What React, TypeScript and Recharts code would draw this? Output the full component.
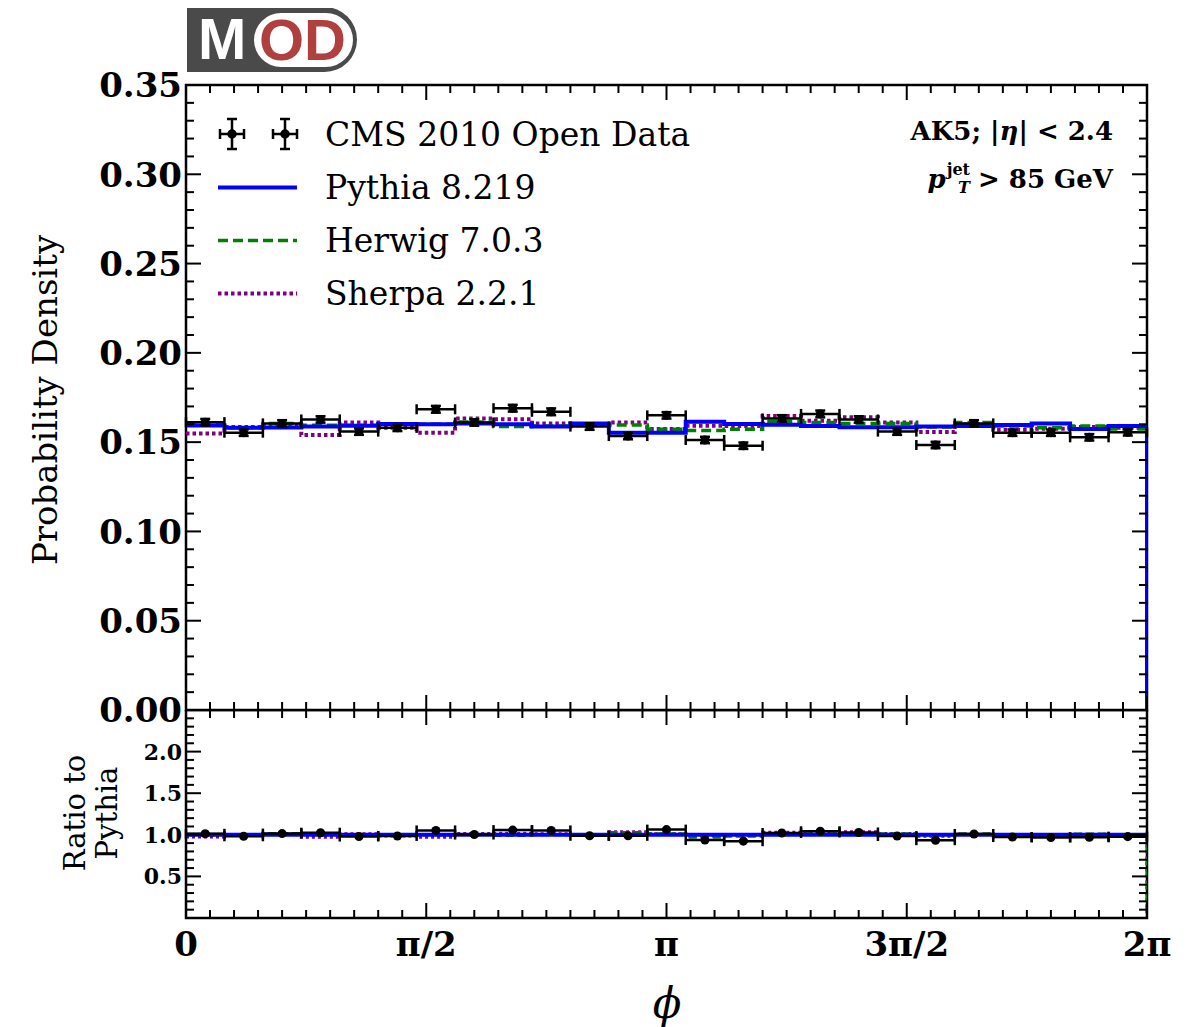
import React from 'react';
import { ComposedChart, Line, Scatter, XAxis, YAxis, ErrorBar, ReferenceArea } from 'recharts';

// ---------- data ----------
const TWO_PI = 2 * Math.PI;
const NBINS = 25;

const dataValues = [
  0.1612, 0.1553, 0.1605, 0.1627, 0.1559, 0.1580, 0.1684, 0.1610, 0.1690, 0.1670,
  0.1587, 0.1534, 0.1650, 0.1512, 0.1480, 0.1633, 0.1658, 0.1627, 0.1559, 0.1484,
  0.1605, 0.1553, 0.1553, 0.1527, 0.1555,
];
const dataErrors = [
  0.0018, 0.0018, 0.0018, 0.0018, 0.0018, 0.0018, 0.0019, 0.0018, 0.0019, 0.0019,
  0.0018, 0.0018, 0.0018, 0.0018, 0.0018, 0.0018, 0.0019, 0.0018, 0.0018, 0.0018,
  0.0018, 0.0018, 0.0018, 0.0018, 0.0018,
];
const pythiaValues = [
  0.1593, 0.1581, 0.1582, 0.1587, 0.1592, 0.1602, 0.1600, 0.1605, 0.1600, 0.1587,
  0.1605, 0.1553, 0.1553, 0.1614, 0.1602, 0.1598, 0.1590, 0.1583, 0.1583, 0.1587,
  0.1590, 0.1596, 0.1605, 0.1574, 0.1590,
];
const herwigValues = [
  0.1596, 0.1580, 0.1605, 0.1595, 0.1595, 0.1600, 0.1600, 0.1613, 0.1587, 0.1590,
  0.1598, 0.1596, 0.1572, 0.1565, 0.1572, 0.1615, 0.1610, 0.1605, 0.1605, 0.1585,
  0.1610, 0.1590, 0.1580, 0.1590, 0.1574,
];
const sherpaValues = [
  0.1549, 0.1585, 0.1595, 0.1540, 0.1610, 0.1580, 0.1553, 0.1632, 0.1628, 0.1605,
  0.1600, 0.1610, 0.1574, 0.1592, 0.1590, 0.1646, 0.1620, 0.1640, 0.1610, 0.1557,
  0.1600, 0.1570, 0.1575, 0.1585, 0.1580,
];

const xMajorTicks = [0, Math.PI / 2, Math.PI, (3 * Math.PI) / 2, TWO_PI];
const xMajorLabels = ['0', 'π/2', 'π', '3π/2', '2π'];
const xMinorTicks = Array.from({ length: 41 }, (_, i) => (i * Math.PI) / 20);
const mainYTicks = Array.from({ length: 36 }, (_, i) => i / 100);
const mainYMajorLabels = ['0.00', '0.05', '0.10', '0.15', '0.20', '0.25', '0.30', '0.35'];
const ratioYTicks = Array.from({ length: 26 }, (_, i) => i / 10);
const ratioYMajorLabels = ['', '0.5', '1.0', '1.5', '2.0', ''];

const legendLabels = ['CMS 2010 Open Data', 'Pythia 8.219', 'Herwig 7.0.3', 'Sherpa 2.2.1'];

// ---------- derived tables ----------
const binEdges = Array.from({ length: NBINS + 1 }, (_, i) => (i * TWO_PI) / NBINS);
const halfWidth = TWO_PI / NBINS / 2;

const stepSeries = (vals: number[], drop: boolean) => [
  ...vals.map((v, i) => ({ x: binEdges[i], v })),
  { x: TWO_PI, v: drop ? 0 : vals[vals.length - 1] },
];

const dataPoints = dataValues.map((v, i) => ({
  x: binEdges[i] + halfWidth,
  y: v,
  xerr: halfWidth,
  yerr: dataErrors[i],
}));
const ratioPoints = dataValues.map((v, i) => ({
  x: binEdges[i] + halfWidth,
  y: v / pythiaValues[i],
  xerr: halfWidth,
  yerr: dataErrors[i] / pythiaValues[i],
}));

const mainPythia = stepSeries(pythiaValues, true);
const mainHerwig = stepSeries(herwigValues, true);
const mainSherpa = stepSeries(sherpaValues, true);
const ratioPythia = stepSeries(pythiaValues.map((p) => p / p), false);
const ratioHerwig = stepSeries(herwigValues.map((h, i) => h / pythiaValues[i]), true);
const ratioSherpa = stepSeries(sherpaValues.map((s, i) => s / pythiaValues[i]), true);

// ---------- styling ----------
const SERIF = '"DejaVu Serif", serif';
const BLUE = '#0000ff';
const GREEN = '#008000';
const PURPLE = '#800080';
const MAJOR = 15;
const MINOR = 8;
const TICK_W = 2;

const CHART_W = 1188;
const Y_AXIS_W = 178;
const RIGHT_M = 49;
const PLOT_W = CHART_W - Y_AXIS_W - RIGHT_M; // 961
const MAIN_TOP = 77;
const MAIN_H = 625;
const MAIN_X_AXIS_H = 30;
const RATIO_H = 208;
const RATIO_CHART_H = 317;

function MainYTick(props: any) {
  const { x, y, payload } = props;
  const idx = Math.round(payload.value * 100);
  const major = idx % 5 === 0;
  const len = major ? MAJOR : MINOR;
  return (
    <g>
      <line x1={x} x2={x + len} y1={y} y2={y} stroke="#000" strokeWidth={TICK_W} />
      <line x1={x + PLOT_W} x2={x + PLOT_W - len} y1={y} y2={y} stroke="#000" strokeWidth={TICK_W} />
      {major && (
        <text x={x - 4} y={y} dy="0.36em" textAnchor="end" fontFamily={SERIF} fontWeight="bold" fontSize={34} fill="#000">
          {mainYMajorLabels[idx / 5]}
        </text>
      )}
    </g>
  );
}

function RatioYTick(props: any) {
  const { x, y, payload } = props;
  const idx = Math.round(payload.value * 10);
  const major = idx % 5 === 0;
  const len = major ? MAJOR : MINOR;
  const label = major ? ratioYMajorLabels[idx / 5] : '';
  return (
    <g>
      <line x1={x} x2={x + len} y1={y} y2={y} stroke="#000" strokeWidth={TICK_W} />
      <line x1={x + PLOT_W} x2={x + PLOT_W - len} y1={y} y2={y} stroke="#000" strokeWidth={TICK_W} />
      {label && (
        <text x={x - 4} y={y} dy="0.36em" textAnchor="end" fontFamily={SERIF} fontWeight="bold" fontSize={22} fill="#000">
          {label}
        </text>
      )}
    </g>
  );
}

function makeXTick(plotH: number, withLabels: boolean) {
  return (props: any) => {
    const { x, y, payload } = props;
    const k = Math.round(payload.value / (Math.PI / 20));
    const major = k % 10 === 0;
    const len = major ? MAJOR : MINOR;
    return (
      <g>
        <line x1={x} x2={x} y1={y} y2={y - len} stroke="#000" strokeWidth={TICK_W} />
        <line x1={x} x2={x} y1={y - plotH} y2={y - plotH + len} stroke="#000" strokeWidth={TICK_W} />
        {withLabels && major && (
          <text x={x} y={y + 38} textAnchor="middle" fontFamily={SERIF} fontWeight="bold" fontSize={34} fill="#000">
            {xMajorLabels[k / 10]}
          </text>
        )}
      </g>
    );
  };
}

const MainXTick = makeXTick(MAIN_H, false);
const RatioXTick = makeXTick(RATIO_H, true);

function LegendIcon({ kind }: { kind: number }) {
  if (kind === 0) {
    const cross = (cx: number) => (
      <g stroke="#000" strokeWidth={2.5}>
        <line x1={cx - 12} x2={cx + 12} y1={26} y2={26} />
        <line x1={cx - 12} x2={cx - 12} y1={21} y2={31} />
        <line x1={cx + 12} x2={cx + 12} y1={21} y2={31} />
        <line x1={cx} x2={cx} y1={11} y2={41} />
        <line x1={cx - 5} x2={cx + 5} y1={11} y2={11} />
        <line x1={cx - 5} x2={cx + 5} y1={41} y2={41} />
        <circle cx={cx} cy={26} r={3.5} fill="#000" />
      </g>
    );
    return (
      <svg width={90} height={53}>
        {cross(19)}
        {cross(72)}
      </svg>
    );
  }
  const color = kind === 1 ? BLUE : kind === 2 ? GREEN : PURPLE;
  const dash = kind === 1 ? undefined : kind === 2 ? '10 5' : '3.5 3';
  const w = kind === 1 ? 4 : kind === 2 ? 3.5 : 4;
  return (
    <svg width={90} height={53}>
      <line x1={5} x2={84} y1={26.5} y2={26.5} stroke={color} strokeWidth={w} strokeDasharray={dash} />
    </svg>
  );
}

export default function App() {
  return (
    <div style={{ position: 'relative', width: CHART_W, height: 1019 }}>
      {/* main panel */}
      <div style={{ position: 'absolute', left: 0, top: 0 }}>
        <ComposedChart
          width={CHART_W}
          height={MAIN_TOP + MAIN_H + MAIN_X_AXIS_H}
          margin={{ top: MAIN_TOP, right: RIGHT_M, bottom: 0, left: 0 }}
        >
          <XAxis
            dataKey="x"
            type="number"
            domain={[0, TWO_PI]}
            allowDataOverflow
            ticks={xMinorTicks}
            interval={0}
            tick={MainXTick}
            tickLine={false}
            axisLine={false}
            tickSize={0}
            tickMargin={0}
            height={MAIN_X_AXIS_H}
          />
          <YAxis
            type="number"
            domain={[0, 0.35]}
            allowDataOverflow
            ticks={mainYTicks}
            interval={0}
            tick={MainYTick}
            tickLine={false}
            axisLine={false}
            tickSize={0}
            tickMargin={0}
            width={Y_AXIS_W}
            label={{
              content: () => (
                <text x={37} y={392} transform="rotate(-90 37 392)" textAnchor="middle" dominantBaseline="central" fontFamily={SERIF} fontSize={34} fill="#000">
                  Probability Density
                </text>
              ),
            }}
          />
          <Line data={mainSherpa} dataKey="v" type="stepAfter" stroke={PURPLE} strokeWidth={4} strokeDasharray="3.5 3" dot={false} activeDot={false} isAnimationActive={false} />
          <Line data={mainHerwig} dataKey="v" type="stepAfter" stroke={GREEN} strokeWidth={3.5} strokeDasharray="10 5" dot={false} activeDot={false} isAnimationActive={false} />
          <Line data={mainPythia} dataKey="v" type="stepAfter" stroke={BLUE} strokeWidth={4} dot={false} activeDot={false} isAnimationActive={false} />
          <Scatter data={dataPoints} dataKey="y" fill="#000" isAnimationActive={false}>
            <ErrorBar dataKey="xerr" direction="x" width={5} stroke="#000" strokeWidth={2.5} isAnimationActive={false} />
            <ErrorBar dataKey="yerr" direction="y" width={5} stroke="#000" strokeWidth={2.5} isAnimationActive={false} />
          </Scatter>
          <ReferenceArea x1={0} x2={TWO_PI} y1={0} y2={0.35} fill="none" stroke="#000" strokeWidth={2.5} ifOverflow="visible" />
        </ComposedChart>
      </div>

      {/* ratio panel */}
      <div style={{ position: 'absolute', left: 0, top: MAIN_TOP + MAIN_H }}>
        <ComposedChart
          width={CHART_W}
          height={RATIO_CHART_H}
          margin={{ top: 0, right: RIGHT_M, bottom: 0, left: 0 }}
        >
          <XAxis
            dataKey="x"
            type="number"
            domain={[0, TWO_PI]}
            allowDataOverflow
            ticks={xMinorTicks}
            interval={0}
            tick={RatioXTick}
            tickLine={false}
            axisLine={false}
            tickSize={0}
            tickMargin={0}
            height={RATIO_CHART_H - RATIO_H}
            label={{
              content: () => (
                <text x={659} y={308} textAnchor="middle" fontFamily={SERIF} fontStyle="italic" fontSize={42} fill="#000">
                  ϕ
                </text>
              ),
            }}
          />
          <YAxis
            type="number"
            domain={[0, 2.5]}
            allowDataOverflow
            ticks={ratioYTicks}
            interval={0}
            tick={RatioYTick}
            tickLine={false}
            axisLine={false}
            tickSize={0}
            tickMargin={0}
            width={Y_AXIS_W}
            label={{
              content: () => (
                <g fontFamily={SERIF} fontSize={29} fill="#000">
                  <text x={67} y={103} transform="rotate(-90 67 103)" textAnchor="middle" dominantBaseline="central">
                    Ratio to
                  </text>
                  <text x={99} y={103} transform="rotate(-90 99 103)" textAnchor="middle" dominantBaseline="central">
                    Pythia
                  </text>
                </g>
              ),
            }}
          />
          <Line data={ratioSherpa} dataKey="v" type="stepAfter" stroke={PURPLE} strokeWidth={3} strokeDasharray="3 3" dot={false} activeDot={false} isAnimationActive={false} />
          <Line data={ratioHerwig} dataKey="v" type="stepAfter" stroke={GREEN} strokeWidth={3} strokeDasharray="8 4" dot={false} activeDot={false} isAnimationActive={false} />
          <Line data={ratioPythia} dataKey="v" type="stepAfter" stroke={BLUE} strokeWidth={4} dot={false} activeDot={false} isAnimationActive={false} />
          <Scatter data={ratioPoints} dataKey="y" fill="#000" isAnimationActive={false}>
            <ErrorBar dataKey="xerr" direction="x" width={5} stroke="#000" strokeWidth={2.5} isAnimationActive={false} />
            <ErrorBar dataKey="yerr" direction="y" width={4} stroke="#000" strokeWidth={2} isAnimationActive={false} />
          </Scatter>
          <ReferenceArea x1={0} x2={TWO_PI} y1={0} y2={2.5} fill="none" stroke="#000" strokeWidth={2.5} ifOverflow="visible" />
        </ComposedChart>
      </div>

      {/* legend */}
      {legendLabels.map((lab, i) => (
        <div
          key={lab}
          style={{
            position: 'absolute',
            left: 205,
            top: 126 + i * 53 - 26.5,
            height: 53,
            display: 'flex',
            alignItems: 'center',
            fontFamily: SERIF,
            fontSize: 33,
            whiteSpace: 'nowrap',
          }}
        >
          <LegendIcon kind={i} />
          <span style={{ marginLeft: 22 }}>{lab}</span>
        </div>
      ))}

      {/* annotation */}
      <div
        style={{
          position: 'absolute',
          right: 83,
          top: 108,
          fontFamily: SERIF,
          fontWeight: 'bold',
          fontSize: 26,
          whiteSpace: 'nowrap',
          textAlign: 'right',
        }}
      >
        AK5; |<i>η</i>| &lt; 2.4
      </div>
      <div
        style={{
          position: 'absolute',
          right: 83,
          top: 154,
          fontFamily: SERIF,
          fontWeight: 'bold',
          fontSize: 26,
          whiteSpace: 'nowrap',
          textAlign: 'right',
          display: 'flex',
          alignItems: 'center',
        }}
      >
        <i>p</i>
        <span style={{ display: 'inline-flex', flexDirection: 'column', fontSize: 16, lineHeight: 1, marginLeft: 1, marginRight: 8 }}>
          <span>jet</span>
          <i style={{ marginTop: 2 }}>T</i>
        </span>
        <span>&gt; 85 GeV</span>
      </div>

      {/* MOD logo */}
      <div
        style={{
          position: 'absolute',
          left: 179,
          top: -1,
          width: 170,
          height: 65,
          background: '#4a4a4a',
          borderRadius: '0 33px 33px 0',
          fontFamily: '"Liberation Sans", Arial, sans-serif',
          fontWeight: 'bold',
        }}
      >
        <span style={{ position: 'absolute', left: 11, top: 2, fontSize: 58, color: '#fff', lineHeight: '60px' }}>M</span>
        <div
          style={{
            position: 'absolute',
            left: 67,
            top: 6,
            width: 99,
            height: 54,
            background: '#fff',
            borderRadius: 27,
          }}
        >
          <span style={{ position: 'absolute', left: 5, top: -3, fontSize: 58, color: '#b0403f', lineHeight: '60px' }}>OD</span>
        </div>
      </div>
    </div>
  );
}
